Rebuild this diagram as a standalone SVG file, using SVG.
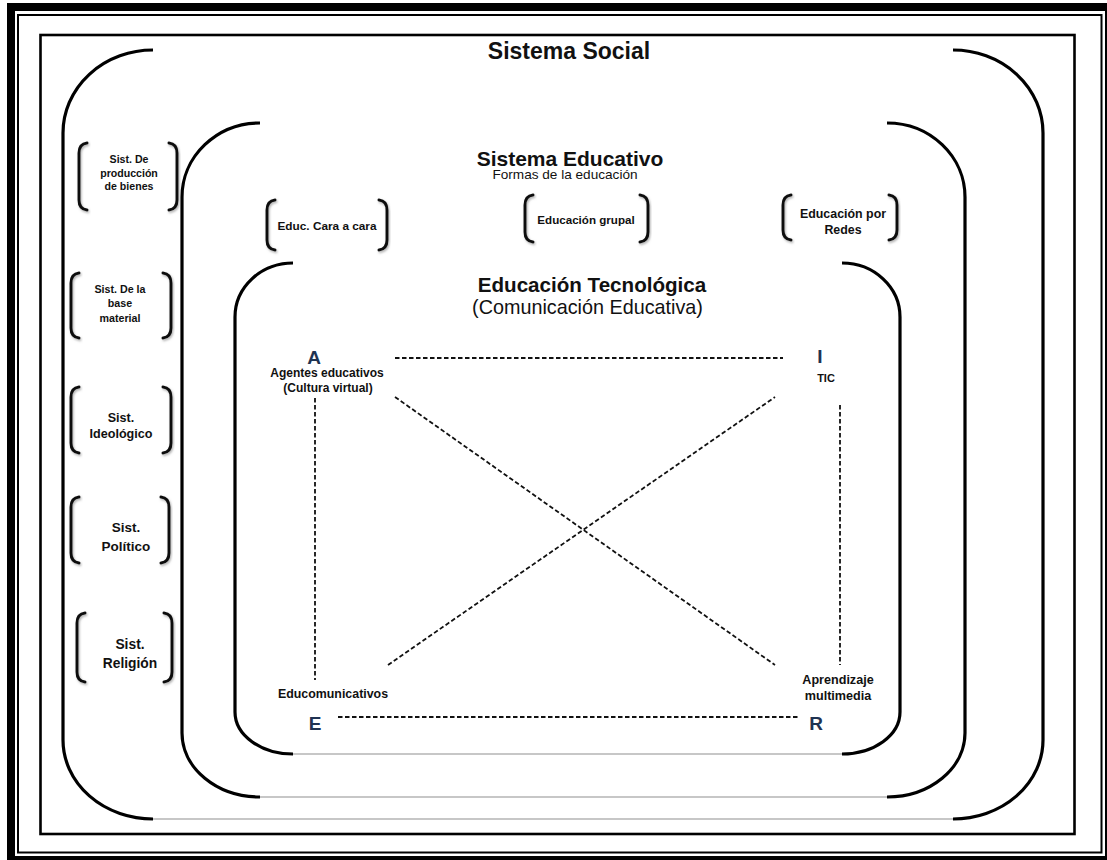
<svg xmlns="http://www.w3.org/2000/svg" width="1107" height="860" viewBox="0 0 1107 860">
<style>
.t{font-family:"Liberation Sans",Arial,sans-serif;fill:#111;text-anchor:middle}
.b{font-weight:bold}
.frame{fill:none;stroke:#000}
.arc{fill:none;stroke:#000;stroke-width:3.2;stroke-linecap:butt}
.base{fill:none;stroke:#b4b4b4;stroke-width:1.6}
.br{fill:none;stroke:#111;stroke-width:3;stroke-linecap:round;filter:url(#sh)}
.dash{fill:none;stroke:#111;stroke-width:1.8;stroke-dasharray:4.5 2.5}
.ltr{font-family:"Liberation Sans",Arial,sans-serif;font-weight:bold;fill:#1f3352;text-anchor:middle;font-size:19px}
</style>
<defs>
<filter id="sh" x="-50%" y="-20%" width="200%" height="140%">
<feDropShadow dx="1" dy="1.5" stdDeviation="1" flood-color="#777" flood-opacity="0.6"/>
</filter>
</defs>
<rect width="1107" height="860" fill="#fff"/>
<g id="frame">
<rect class="frame" x="11" y="7" width="1098" height="853" stroke-width="8"/>
<rect class="frame" x="18" y="15" width="1083.5" height="837.5" stroke-width="2"/>
<rect class="frame" x="40.5" y="35" width="1034" height="799" stroke-width="2.6"/>
</g>
<g id="sistema-social">
<path class="arc" d="M153,50 A90,83 0 0 0 63,133 L63,740 A90,79 0 0 0 153,819"/>
<path class="arc" d="M953,50 A90,83 0 0 1 1043,133 L1043,740 A90,79 0 0 1 953,819"/>
<line class="base" x1="153" y1="819" x2="953" y2="819"/>
<text class="t b" x="569" y="59" font-size="23">Sistema Social</text>
</g>
<g id="sistema-educativo">
<path class="arc" d="M260,123 A78,74 0 0 0 182,197 L182,733 A78,64 0 0 0 260,797"/>
<path class="arc" d="M887,123 A78,74 0 0 1 965,197 L965,733 A78,64 0 0 1 887,797"/>
<line class="base" x1="260" y1="797" x2="887" y2="797"/>
<text class="t b" x="570" y="166" font-size="21">Sistema Educativo</text>
<text class="t" x="565" y="179" font-size="13.6">Formas de la educación</text>
</g>
<g id="educacion-tecnologica">
<path class="arc" d="M293,263 A58,54 0 0 0 235,317 L235,712 A58,42 0 0 0 293,754"/>
<path class="arc" d="M842,263 A58,54 0 0 1 900,317 L900,712 A58,42 0 0 1 842,754"/>
<line class="base" x1="293" y1="754" x2="842" y2="754"/>
<text class="t b" x="592" y="292" font-size="20.6">Educación Tecnológica</text>
<text class="t" x="587.5" y="314" font-size="19.8">(Comunicación Educativa)</text>
</g>
<g id="sist-produccion">
<path class="br" d="M87,143 Q79,144 79,153 L79,200 Q79,209 87,210"/>
<path class="br" d="M169,143 Q177,144 177,153 L177,200 Q177,209 169,210"/>
<text class="t b" font-size="10.6"><tspan x="129" y="163">Sist. De</tspan><tspan x="129" y="177">producción</tspan><tspan x="129" y="190">de bienes</tspan></text>
</g>
<g id="sist-base-material">
<path class="br" d="M79,273 Q71,274 71,283 L71,328 Q71,337 79,338"/>
<path class="br" d="M163,273 Q171,274 171,283 L171,328 Q171,337 163,338"/>
<text class="t b" font-size="10.7"><tspan x="120" y="293">Sist. De la</tspan><tspan x="120" y="307">base</tspan><tspan x="120" y="322">material</tspan></text>
</g>
<g id="sist-ideologico">
<path class="br" d="M79,387 Q71,388 71,397 L71,443 Q71,452 79,453"/>
<path class="br" d="M163,387 Q171,388 171,397 L171,443 Q171,452 163,453"/>
<text class="t b" font-size="12.6"><tspan x="121" y="422">Sist.</tspan><tspan x="121" y="438">Ideológico</tspan></text>
</g>
<g id="sist-politico">
<path class="br" d="M79,497 Q71,498 71,507 L71,553 Q71,562 79,563"/>
<path class="br" d="M161,497 Q169,498 169,507 L169,553 Q169,562 161,563"/>
<text class="t b" font-size="13.5"><tspan x="126" y="532">Sist.</tspan><tspan x="126" y="551">Político</tspan></text>
</g>
<g id="sist-religion">
<path class="br" d="M85,613 Q77,614 77,623 L77,672 Q77,681 85,682"/>
<path class="br" d="M164,613 Q172,614 172,623 L172,672 Q172,681 164,682"/>
<text class="t b" font-size="13.8"><tspan x="130" y="649">Sist.</tspan><tspan x="130" y="668">Religión</tspan></text>
</g>
<g id="educ-cara-a-cara">
<path class="br" d="M275,200 Q267,201 267,210 L267,240 Q267,249 275,250"/>
<path class="br" d="M379,200 Q387,201 387,210 L387,240 Q387,249 379,250"/>
<text class="t b" x="327" y="230" font-size="11.8">Educ. Cara a cara</text>
</g>
<g id="educacion-grupal">
<path class="br" d="M533,195 Q525,196 525,205 L525,232 Q525,241 533,242"/>
<path class="br" d="M640,195 Q648,196 648,205 L648,232 Q648,241 640,242"/>
<text class="t b" x="586" y="224" font-size="11.6">Educación grupal</text>
</g>
<g id="educacion-por-redes">
<path class="br" d="M791,195 Q783,196 783,205 L783,230 Q783,239 791,240"/>
<path class="br" d="M889,195 Q897,196 897,205 L897,230 Q897,239 889,240"/>
<text class="t b" font-size="12.4"><tspan x="843" y="218">Educación por</tspan><tspan x="843" y="234">Redes</tspan></text>
</g>
<g id="node-A">
<text class="ltr" x="314" y="364" font-size="18">A</text>
<text class="t b" font-size="12"><tspan x="327" y="377">Agentes educativos</tspan><tspan x="328" y="392">(Cultura virtual)</tspan></text>
</g>
<g id="node-I">
<text class="ltr" x="820" y="363">I</text>
<text class="t b" x="826" y="382" font-size="11">TIC</text>
</g>
<g id="node-E">
<text class="t b" x="333" y="698" font-size="12.4">Educomunicativos</text>
<text class="ltr" x="315" y="730">E</text>
</g>
<g id="node-R">
<text class="t b" font-size="12.6"><tspan x="838" y="684">Aprendizaje</tspan><tspan x="838" y="700">multimedia</tspan></text>
<text class="ltr" x="816" y="730">R</text>
</g>
<g id="connectors">
<line class="dash" x1="395" y1="358" x2="783" y2="358"/>
<line class="dash" x1="315" y1="398" x2="315" y2="680"/>
<line class="dash" x1="395" y1="397" x2="775" y2="665"/>
<line class="dash" x1="388" y1="665" x2="775" y2="397"/>
<line class="dash" x1="840" y1="405" x2="840" y2="665"/>
<line class="dash" x1="338" y1="717" x2="800" y2="717"/>
</g>
</svg>
